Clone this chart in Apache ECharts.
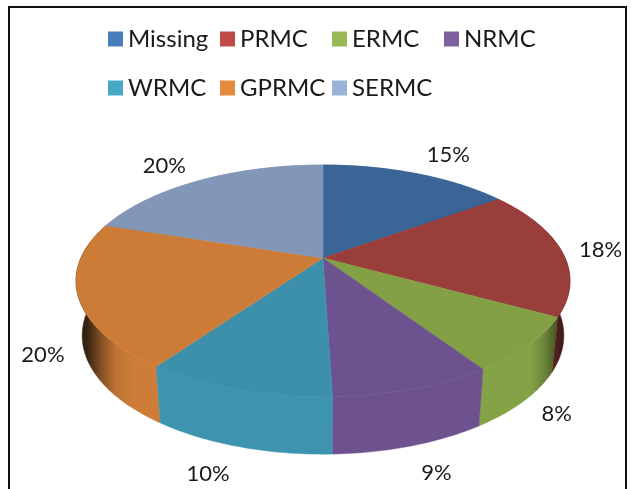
<!DOCTYPE html>
<html><head><meta charset="utf-8">
<style>html,body{margin:0;padding:0;background:#fff}#c{width:631px;height:489px}</style>
<script src="https://cdn.jsdelivr.net/npm/echarts@6/dist/echarts.min.js"></script>
</head><body><div id="c"></div>
<script>
const categories = ['Missing','PRMC','ERMC','NRMC','WRMC','GPRMC','SERMC'];
const values = [15, 18, 7.7, 8.8, 10.3, 20.2, 20];
const legendColors = ['#4a7ebb','#be4b48','#98b954','#7d60a0','#46aac5','#e68a3e','#9bb3d8'];
const faceColors = ['#3a6596','#993e3a','#83a045','#6d5290','#3d90aa','#cd7c38','#8297b8'];
const sideColors = ['#3a6596','#993e3a','#84a246','#6e5290','#3e93ae','#ce7d38','#8297b8'];
const labelOffsets = [[32,-19],[39,-1],[28,69],[23,84],[-29,84],[-35,59],[-36,-14]];

const G = {cx:323, cy:258, A:242.1, B:111.4, c:0.198, depthScale:0.975, bottomCy:312, bottomB:114, left:76, right:570};
const total = values.reduce((a,b)=>a+b,0);
const starts = []; values.reduce((s,v,i)=>{starts[i]=s;return s+v;},0);
function topPt(t){const u=Math.sin(t),v=Math.cos(t),d=1+G.c*v;return [G.cx+G.A*u/d,G.cy-G.B*v/d];}
function bottomPt(t){const u=Math.sin(t),v=Math.cos(t),d=1+G.c*v;return [G.cx+G.depthScale*G.A*u/d,G.bottomCy-G.bottomB*v/d];}
function arc(fn,a,b){const n=Math.max(4,Math.ceil((b-a)*60)),p=[];for(let k=0;k<=n;k++)p.push(fn(a+(b-a)*k/n));return p;}
function shade(hex,f){const n=parseInt(hex.slice(1),16);const c=[n>>16,(n>>8)&255,n&255].map(x=>Math.round(x*f));return 'rgb('+c.join(',')+')';}
function sideFill(hex){
  return new echarts.graphic.LinearGradient(G.left,0,G.right,0,[
    {offset:0,color:shade(hex,0.2)},{offset:0.022,color:shade(hex,0.27)},{offset:0.05,color:shade(hex,0.62)},
    {offset:0.08,color:shade(hex,0.92)},{offset:0.115,color:hex},{offset:0.92,color:hex},
    {offset:0.95,color:shade(hex,0.8)},{offset:0.975,color:shade(hex,0.5)},{offset:1,color:shade(hex,0.25)}],true);
}
function renderSlice(i){
  return function(params,api){
    const val=api.value(0);
    const a=starts[i]/total*2*Math.PI,b=(starts[i]+val)/total*2*Math.PI,m=(a+b)/2;
    const tp=arc(topPt,a,b),bp=arc(bottomPt,a,b).reverse();
    const lab=topPt(m);
    const fill=sideFill(sideColors[i]);
    return {type:'group',children:[
      {type:'polygon',z2:Math.round(10-5*Math.cos(m)),shape:{points:tp.concat(bp)},style:{fill:fill,stroke:fill,lineWidth:0.5}},
      {type:'polygon',z2:50,shape:{points:[[G.cx,G.cy]].concat(tp)},style:{fill:faceColors[i],stroke:faceColors[i],lineWidth:0.5}},
      {type:'text',z2:60,x:lab[0]+labelOffsets[i][0],y:lab[1]+labelOffsets[i][1],
        style:{text:Math.round(val)+'%',fill:'#1a1a1a',font:'22px Lato',align:'center',verticalAlign:'middle'}}
    ]};
  };
}
const legends=categories.map((name,i)=>({orient:'horizontal',padding:0,left:108+112*(i<4?i:i-4),top:i<4?27:76,
  icon:'rect',itemWidth:15,itemHeight:15,selectedMode:false,data:[name],
  textStyle:{fontFamily:'Lato',fontSize:24,color:'#1a1a1a'}}));
const chart=echarts.init(document.getElementById('c'),null,{renderer:'canvas'});
chart.setOption({
  animation:false,backgroundColor:'#fff',
  legend:legends,
  graphic:[{type:'rect',z:100,silent:true,shape:{x:9,y:7,width:617,height:490},style:{fill:'none',stroke:'#111',lineWidth:2}}],
  series:categories.map((name,i)=>({type:'custom',name,coordinateSystem:'none',silent:true,itemStyle:{color:legendColors[i]},
    renderItem:renderSlice(i),data:[{name,value:values[i]}]}))
});
</script></body></html>
